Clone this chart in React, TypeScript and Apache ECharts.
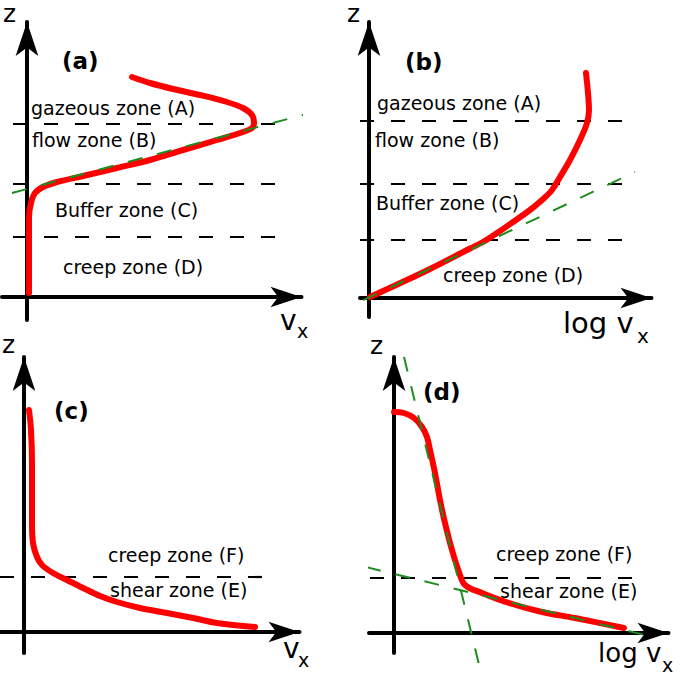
import React, { useEffect, useRef } from "react";
import * as echarts from "echarts";

type Pt = [number, number];

// ---------- Data (panel-local units: origin at the axes' crossing) ----------
// Panel (a): z versus v_x
const curveA: Pt[] = [
  [105, 220], [123, 214], [146, 208], [173, 202], [200, 195], [216, 189], [225, 182],
  [227, 174], [225, 169], [216, 165], [190, 157], [156, 147], [123, 137], [90, 129],
  [56, 121], [30, 115], [16, 110], [8, 104], [4, 94], [2, 80], [2, 64], [2, 4],
];
const fitA: Pt[] = [[-15, 104], [298, 188]];
const zonesA = [173, 113, 60];
const zoneSpanA: Pt = [-14, 256];

// Panel (b): z versus log v_x
const curveB: Pt[] = [
  [217, 225], [219, 205], [220, 188], [218, 175], [211, 158], [201, 138], [191, 121],
  [183, 108], [173, 98], [161, 88], [144, 76], [128, 65], [114, 56], [101, 49.5],
  [60, 28.5], [25, 12], [1, 1],
];
const fitB: Pt[] = [[-33, -15], [266, 126]];
const zonesB = [177, 114, 58];
const zoneSpanB: Pt = [-9, 260];

// Panel (c): z versus v_x
const curveC: Pt[] = [
  [5, 222], [7, 202], [8, 169], [8, 135], [8, 109], [9, 89], [13, 75], [18, 67], [29, 59],
  [43, 52], [59, 44], [76, 36], [93, 30], [116, 24], [143, 19], [169, 14], [193, 9], [231, 5],
];
const zonesC = [55];
const zoneSpanC: Pt = [-24, 244];

// Panel (d): z versus log v_x
const curveD: Pt[] = [
  [0, 221], [10, 220], [20, 215], [28, 206], [33, 196], [36, 183], [41, 160], [46, 133],
  [51, 110], [58, 83], [65, 61], [71, 48], [88, 40], [115, 30], [148, 21], [181, 15], [230, 5],
];
const fitD1: Pt[] = [[10, 276], [88, -44]];
const fitD2: Pt[] = [[-57, 73], [263, -5]];
const zonesD = [55];
const zoneSpanD: Pt = [-24, 245];

// Texts
const zoneTextsA = ["gazeous zone (A)", "flow zone (B)", "Buffer zone (C)", "creep zone (D)"];
const zoneTextsC = ["creep zone (F)", "shear zone (E)"];
const panelTags = ["(a)", "(b)", "(c)", "(d)"];

// ---------- Layout ----------
const panels = [
  { ox: 27, oy: 297, x: [-25, 274.5], y: [-23, 275] },
  { ox: 369, oy: 298, x: [-9, 282.5], y: [-19, 276] },
  { ox: 24, oy: 632, x: [-24, 275.5], y: [-21, 275] },
  { ox: 394, oy: 633, x: [-25, 274.5], y: [-20, 276] },
];

const FONT = '"DejaVu Sans", "Liberation Sans", sans-serif';
const RED = "#ff0000";
const GREEN = "#1e8c1e";

function txt(text: string, x: number, y: number, size: number, bold = false) {
  return {
    type: "text",
    x,
    y,
    silent: true,
    style: {
      text,
      fill: "#000",
      fontFamily: FONT,
      fontSize: size,
      fontWeight: bold ? "bold" : "normal",
      align: "left",
      verticalAlign: "middle",
      textAlign: "left",
      textVerticalAlign: "middle",
    },
  };
}

export default function App() {
  const ref = useRef<HTMLDivElement>(null);

  useEffect(() => {
    if (!ref.current) return;
    const chart = echarts.init(ref.current, null, { renderer: "svg" });

    const grids = panels.map((p) => ({
      left: p.ox + p.x[0],
      top: p.oy - p.y[1],
      width: p.x[1] - p.x[0],
      height: p.y[1] - p.y[0],
      containLabel: false,
    }));

    const axisCommon = {
      type: "value" as const,
      axisTick: { show: false },
      axisLabel: { show: false },
      splitLine: { show: false },
    };

    const xAxes = panels.map((p, i) => ({
      ...axisCommon,
      gridIndex: i,
      min: p.x[0],
      max: p.x[1],
      axisLine: {
        show: true,
        onZero: true,
        symbol: ["none", "arrow"],
        symbolSize: [15.5, 31],
        lineStyle: { color: "#000", width: 4 },
      },
    }));
    const yAxes = panels.map((p, i) => ({
      ...axisCommon,
      gridIndex: i,
      min: p.y[0],
      max: p.y[1],
      axisLine: {
        show: true,
        onZero: true,
        symbol: ["none", "arrow"],
        symbolSize: [17, 34],
        lineStyle: { color: "#000", width: 4 },
      },
    }));

    const series: any[] = [];
    const zoneLines = (i: number, levels: number[], span: Pt) => {
      levels.forEach((lv) => {
        series.push({
          type: "line",
          xAxisIndex: i,
          yAxisIndex: i,
          data: [[span[0], lv], [span[1], lv]],
          symbol: "none",
          clip: false,
          silent: true,
          lineStyle: { color: "#000", width: 2.2, type: [14, 17] },
        });
      });
    };
    const redCurve = (i: number, data: Pt[]) => {
      series.push({
        type: "line",
        xAxisIndex: i,
        yAxisIndex: i,
        data,
        symbol: "none",
        smooth: 0.35,
        clip: false,
        silent: true,
        lineStyle: { color: RED, width: 6, cap: "round", join: "round" },
      });
    };
    const fitLine = (i: number, data: Pt[]) => {
      series.push({
        type: "line",
        xAxisIndex: i,
        yAxisIndex: i,
        data,
        symbol: "none",
        clip: false,
        silent: true,
        lineStyle: { color: GREEN, width: 2, type: [15, 15] },
      });
    };

    zoneLines(0, zonesA, zoneSpanA);
    zoneLines(1, zonesB, zoneSpanB);
    zoneLines(2, zonesC, zoneSpanC);
    zoneLines(3, zonesD, zoneSpanD);
    redCurve(0, curveA);
    redCurve(1, curveB);
    redCurve(2, curveC);
    redCurve(3, curveD);
    fitLine(0, fitA);
    fitLine(1, fitB);
    fitLine(3, fitD1);
    fitLine(3, fitD2);

    const graphics: any[] = [
      // zone labels (a)
      txt(zoneTextsA[0], 31, 108, 19),
      txt(zoneTextsA[1], 32, 140, 19),
      txt(zoneTextsA[2], 55, 210, 19),
      txt(zoneTextsA[3], 63, 267, 19),
      // zone labels (b)
      txt(zoneTextsA[0], 377, 103, 19),
      txt(zoneTextsA[1], 375, 140, 19),
      txt(zoneTextsA[2], 376, 203, 19),
      txt(zoneTextsA[3], 443, 275, 19),
      // zone labels (c), (d)
      txt(zoneTextsC[0], 108, 555, 19),
      txt(zoneTextsC[1], 110, 590, 19),
      txt(zoneTextsC[0], 496, 554, 19),
      txt(zoneTextsC[1], 500, 591, 19),
      // panel tags
      txt(panelTags[0], 62, 61, 23, true),
      txt(panelTags[1], 405, 62, 23, true),
      txt(panelTags[2], 54, 411, 23, true),
      txt(panelTags[3], 423, 392, 23, true),
      // z labels
      txt("z", 3, 13, 25),
      txt("z", 347, 13, 25),
      txt("z", 2, 344, 25),
      txt("z", 370, 345, 25),
      // x labels
      txt("v", 280, 320, 28),
      txt("x", 297, 331, 19),
      txt("log v", 563, 323, 29),
      txt("x", 637, 336, 20),
      txt("v", 283, 648, 28),
      txt("x", 298, 660, 19),
      txt("log v", 598, 653, 26),
      txt("x", 662, 665, 19),
    ];

    chart.setOption({
      animation: false,
      backgroundColor: "#fff",
      grid: grids,
      xAxis: xAxes,
      yAxis: yAxes,
      series,
      graphic: graphics,
    });

    return () => chart.dispose();
  }, []);

  return (
    <div
      ref={ref}
      style={{ position: "absolute", left: 0, top: 0, width: 685, height: 677 }}
    />
  );
}
